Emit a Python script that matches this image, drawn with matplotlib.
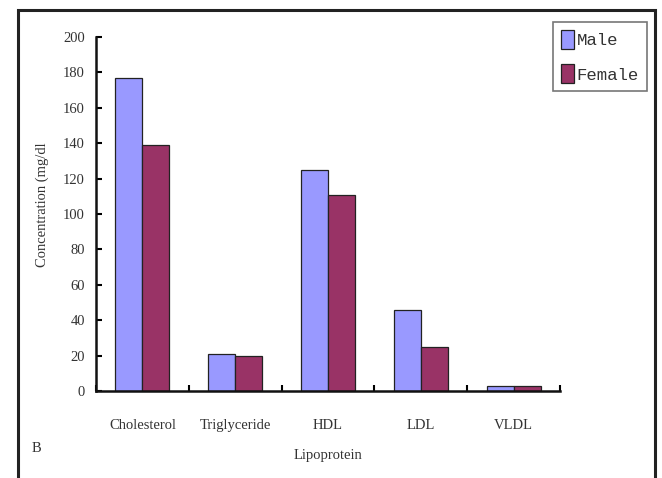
import matplotlib
matplotlib.use("Agg")
import matplotlib.pyplot as plt
import numpy as np
from matplotlib.patches import Rectangle

categories = ["Cholesterol", "Triglyceride", "HDL", "LDL", "VLDL"]
male = [177, 21, 125, 46, 3]
female = [139, 20, 111, 25, 3]
yticks = [0, 20, 40, 60, 80, 100, 120, 140, 160, 180, 200]

plt.rcParams['font.family'] = ['Liberation Serif', 'DejaVu Serif']

fig = plt.figure(figsize=(6.62, 4.78), dpi=100)
fig.patch.set_facecolor('white')
fig.patches.append(Rectangle((18/662, -0.02), 637/662, 1 - 10/478 + 0.02,
                             transform=fig.transFigure, fill=False,
                             edgecolor='#222222', linewidth=2.2))

ax = fig.add_axes([96/662, 1 - 391/478, (560 - 96)/662, (391 - 37)/478])
x = np.arange(len(categories))
w = 0.29
ax.bar(x - w/2, male, w, color='#9999FF', edgecolor='#222222', linewidth=0.9, label='Male')
ax.bar(x + w/2, female, w, color='#993366', edgecolor='#222222', linewidth=0.9, label='Female')

ax.set_xlim(-0.5, len(categories) - 0.5)
ax.set_ylim(0, 200)
ax.set_yticks(yticks)
ax.set_yticklabels([str(v) for v in yticks], fontsize=10.5, color='#333333')
ax.set_xticks(x)
ax.set_xticklabels(categories, fontsize=10.5, color='#333333')
ax.set_xticks(np.arange(-0.5, len(categories)), minor=True)
ax.tick_params(axis='x', which='major', length=0, pad=20)
ax.tick_params(axis='x', which='minor', direction='in', length=4, width=1.5)
ax.tick_params(axis='y', direction='in', length=4, width=1.5, pad=8)
for s in ['top', 'right']:
    ax.spines[s].set_visible(False)
for s in ['left', 'bottom']:
    ax.spines[s].set_linewidth(1.8)
    ax.spines[s].set_color('#111111')

fig.text(42/662, 1 - 205/478, "Concentration (mg/dl", rotation=90, ha='center', va='center',
         fontsize=10.5, color='#333333')
fig.text(328/662, 1 - 455/478, "Lipoprotein", ha='center', va='center', fontsize=10.5, color='#333333')
fig.text(36/662, 1 - 448/478, "B", ha='center', va='center', fontsize=10.5, color='#333333')

leg = fig.legend(loc='upper left', bbox_to_anchor=(553/662, 1 - 22/478),
                 frameon=True, fancybox=False, edgecolor='#555555',
                 prop={'family': 'Liberation Mono', 'size': 12.5},
                 handlelength=0.75, handleheight=1.3, handletextpad=0.15,
                 labelspacing=0.9, borderpad=0.45, borderaxespad=0)
leg.get_frame().set_linewidth(1.2)
for t in leg.get_texts():
    t.set_color('#333333')

fig.savefig("out.png", dpi=100)
